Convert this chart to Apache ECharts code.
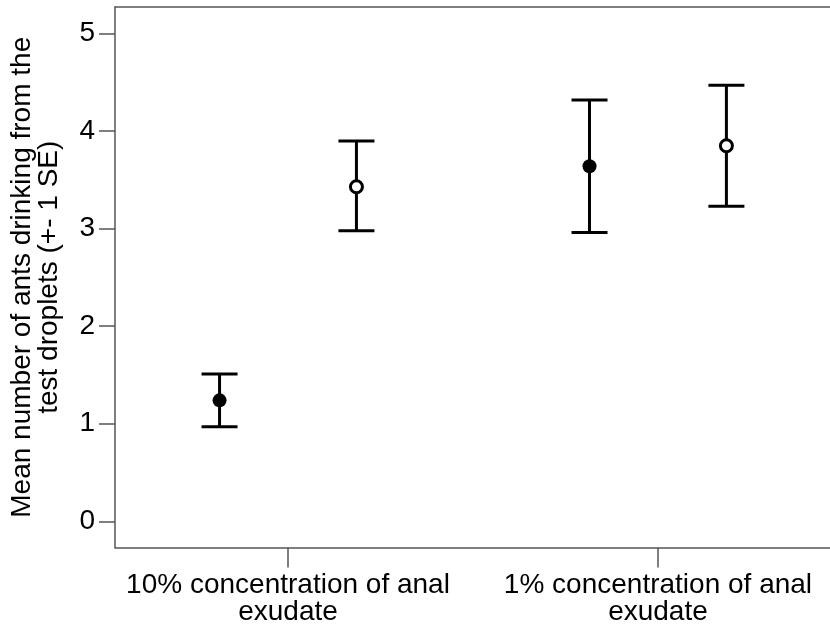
<!DOCTYPE html>
<html>
<head>
<meta charset="utf-8">
<script src="https://cdn.jsdelivr.net/npm/echarts@6/dist/echarts.min.js"></script>
<style>html,body{margin:0;padding:0;background:#fff}#c{width:830px;height:630px}</style>
</head>
<body>
<div id="c"></div>
<script>
// ---- data ----
const groups = ['10% concentration of anal\nexudate', '1% concentration of anal\nexudate'];
const yTicks = [0, 1, 2, 3, 4, 5];
const filledMean = [1.24, 3.64];
const filledLow  = [0.97, 2.96];
const filledHigh = [1.51, 4.32];
const openMean = [3.43, 3.85];
const openLow  = [2.98, 3.23];
const openHigh = [3.90, 4.47];
const yTitle = 'Mean number of ants drinking from the\ntest droplets (+- 1 SE)';

// ---- layout ----
const OFFSET = 0.185;
const FONT = "'Liberation Sans', Arial, sans-serif";
const groupPos = groups.map((g, i) => i + 1);

function barsData(low, high, off) {
  return groupPos.map((p, i) => [p + off, low[i], high[i]]);
}
function meanData(mean, off) {
  return groupPos.map((p, i) => [p + off, mean[i]]);
}
function renderErr(params, api) {
  const x = api.value(0);
  const lo = api.coord([x, api.value(1)]);
  const hi = api.coord([x, api.value(2)]);
  const hw = 18;
  const st = { stroke: '#000', lineWidth: 3 };
  return {
    type: 'group',
    children: [
      { type: 'line', shape: { x1: lo[0], y1: lo[1], x2: hi[0], y2: hi[1] }, style: st },
      { type: 'line', shape: { x1: lo[0] - hw, y1: lo[1], x2: lo[0] + hw, y2: lo[1] }, style: st },
      { type: 'line', shape: { x1: hi[0] - hw, y1: hi[1], x2: hi[0] + hw, y2: hi[1] }, style: st }
    ]
  };
}

const axisCol = '#555';
const chart = echarts.init(document.getElementById('c'), null, { renderer: 'canvas' });
chart.setOption({
  animation: false,
  backgroundColor: '#fff',
  textStyle: { fontFamily: FONT },
  grid: { left: 115, right: 0, top: 7, bottom: 82.5, containLabel: false },
  xAxis: [{
    type: 'value',
    min: 0.5324, max: 2.465,
    splitLine: { show: false },
    axisLine: { show: true, onZero: false, lineStyle: { color: axisCol, width: 1.5 } },
    axisTick: { show: true, customValues: groupPos, length: 20, lineStyle: { color: axisCol, width: 1.5 } },
    axisLabel: {
      show: true, customValues: groupPos, margin: 24,
      formatter: v => groups[Math.round(v) - 1] || '',
      color: '#000', fontSize: 28, lineHeight: 27, fontFamily: FONT, align: 'center'
    }
  }, {
    type: 'value', position: 'top',
    min: 0.5324, max: 2.465,
    splitLine: { show: false },
    axisLine: { show: true, onZero: false, lineStyle: { color: axisCol, width: 1.5 } },
    axisTick: { show: false }, axisLabel: { show: false }
  }],
  yAxis: {
    type: 'value',
    min: -0.269, max: 5.273,
    splitLine: { show: false },
    axisLine: { show: true, onZero: false, lineStyle: { color: axisCol, width: 1.5 } },
    axisTick: { show: true, customValues: yTicks, length: 16, lineStyle: { color: axisCol, width: 1.5 } },
    axisLabel: {
      show: true, customValues: yTicks, margin: 20,
      color: '#000', fontSize: 28, fontFamily: FONT
    },
    name: yTitle,
    nameLocation: 'middle',
    nameRotate: 90,
    nameGap: 52,
    nameTextStyle: { color: '#000', fontSize: 28, lineHeight: 27, fontFamily: FONT, align: 'center' }
  },
  series: [
    { type: 'custom', name: 'filled SE', renderItem: renderErr, data: barsData(filledLow, filledHigh, -OFFSET), z: 2 },
    { type: 'custom', name: 'open SE', renderItem: renderErr, data: barsData(openLow, openHigh, OFFSET), z: 2 },
    { type: 'scatter', name: 'filled', data: meanData(filledMean, -OFFSET), symbol: 'circle', symbolSize: 14,
      itemStyle: { color: '#000', opacity: 1 }, z: 3 },
    { type: 'scatter', name: 'open', data: meanData(openMean, OFFSET), symbol: 'circle', symbolSize: 12,
      itemStyle: { color: '#fff', borderColor: '#000', borderWidth: 3, opacity: 1 }, z: 3 }
  ]
});
</script>
</body>
</html>
